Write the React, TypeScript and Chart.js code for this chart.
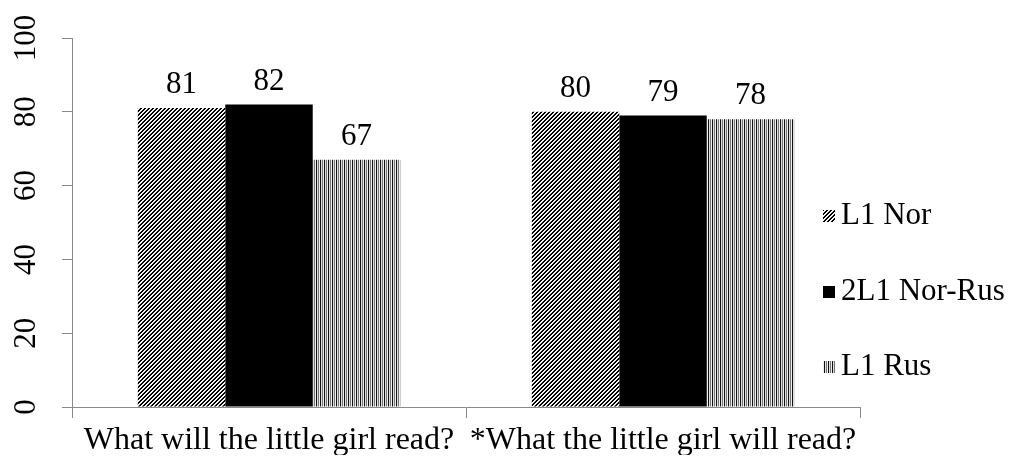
import React, { useEffect, useRef } from "react";
import { Chart, registerables } from "chart.js";

Chart.register(...registerables);

const categories = ["What will the little girl read?", "*What the little girl will read?"];
const seriesNames = ["L1 Nor", "2L1 Nor-Rus", "L1 Rus"];
const l1Nor = [81, 80];
const nor2L1Rus = [82, 79];
const l1Rus = [67, 78];
const yTicks = [0, 20, 40, 60, 80, 100];

const FONT = '"Liberation Serif"';
const AXIS_GRAY = "#898989";

function makePattern(kind: string): CanvasPattern | string {
  const c = document.createElement("canvas");
  const ctx = c.getContext("2d");
  if (!ctx) return "#000";
  if (kind === "diag") {
    c.width = 4;
    c.height = 4;
    for (let x = 0; x < 4; x++) {
      for (let y = 0; y < 4; y++) {
        const k = (x + y) % 4;
        ctx.fillStyle = k === 0 || k === 1 ? "#000" : k === 2 ? "#ffffff" : "#e8e8e8";
        ctx.fillRect(x, y, 1, 1);
      }
    }
  } else {
    const cols = ["#111111", "#dddddd", "#777777", "#eeeeee"];
    c.width = cols.length;
    c.height = 1;
    cols.forEach((col, i) => {
      ctx.fillStyle = col;
      ctx.fillRect(i, 0, 1, 1);
    });
  }
  return ctx.createPattern(c, "repeat") || "#000";
}

export default function App() {
  const ref = useRef<HTMLCanvasElement | null>(null);

  useEffect(() => {
    if (!ref.current) return;
    const diag = makePattern("diag");
    const vert = makePattern("vert");
    const fills = [diag, "#000000", vert];

    const textPlugin = {
      id: "customText",
      afterDatasetsDraw(ch: any) {
        const ctx = ch.ctx as CanvasRenderingContext2D;
        ctx.save();
        ctx.fillStyle = "#000";
        ctx.font = `31px ${FONT}`;
        ctx.textAlign = "center";
        ctx.textBaseline = "middle";
        ch.data.datasets.forEach((ds: any, i: number) => {
          const meta = ch.getDatasetMeta(i);
          meta.data.forEach((bar: any, j: number) => {
            ctx.fillText(String(ds.data[j]), bar.x, bar.y - 23);
          });
        });
        ctx.restore();
      },
      afterDraw(ch: any) {
        const ctx = ch.ctx as CanvasRenderingContext2D;
        const yScale = ch.scales.y;
        ctx.save();
        ctx.fillStyle = "#000";
        ctx.font = `31px ${FONT}`;
        ctx.textAlign = "center";
        ctx.textBaseline = "middle";
        yTicks.forEach((v) => {
          const py = yScale.getPixelForValue(v);
          ctx.save();
          ctx.translate(19, py);
          ctx.rotate(-Math.PI / 2);
          ctx.fillText(String(v), 0, 0);
          ctx.restore();
        });
        const legendX = ch.chartArea.right - 37;
        const centers = [208, 284, 359];
        ctx.textAlign = "left";
        seriesNames.forEach((name, i) => {
          const cy = centers[i];
          ctx.fillStyle = fills[i] as any;
          ctx.fillRect(legendX, cy - 6, 12, 12);
          ctx.fillStyle = "#000";
          ctx.fillText(name, legendX + 18, cy);
        });
        ctx.restore();
      },
    };

    const chart = new Chart(ref.current, {
      type: "bar",
      data: {
        labels: categories,
        datasets: [
          { label: seriesNames[0], data: l1Nor, backgroundColor: diag as any, borderWidth: 0 },
          { label: seriesNames[1], data: nor2L1Rus, backgroundColor: "#000000", borderWidth: 0 },
          { label: seriesNames[2], data: l1Rus, backgroundColor: vert as any, borderWidth: 0 },
        ],
      },
      options: {
        animation: false,
        responsive: true,
        maintainAspectRatio: false,
        layout: { padding: { top: 30, right: 144, left: 0, bottom: 0 } },
        plugins: { legend: { display: false }, tooltip: { enabled: false } },
        datasets: { bar: { categoryPercentage: 0.666, barPercentage: 1.0 } },
        scales: {
          x: {
            grid: {
              display: true,
              drawOnChartArea: false,
              drawTicks: true,
              tickLength: 11,
              color: AXIS_GRAY,
              offset: true,
            },
            border: { display: true, color: AXIS_GRAY, width: 1 },
            ticks: {
              color: "#000",
              font: { family: "Liberation Serif", size: 32 },
              maxRotation: 0,
              minRotation: 0,
              autoSkip: false,
              padding: 3,
            },
            afterFit(s: any) {
              s.height = 48;
            },
          },
          y: {
            min: 0,
            max: 100,
            grid: {
              display: true,
              drawOnChartArea: false,
              drawTicks: true,
              tickLength: 10,
              color: AXIS_GRAY,
            },
            border: { display: true, color: AXIS_GRAY, width: 1 },
            ticks: { display: false, stepSize: 20 },
            afterFit(s: any) {
              s.width = 64;
            },
          },
        },
      },
      plugins: [textPlugin],
    });
    return () => chart.destroy();
  }, []);

  return (
    <div style={{ position: "relative", width: "100%", height: "447px" }}>
      <canvas ref={ref} />
    </div>
  );
}
